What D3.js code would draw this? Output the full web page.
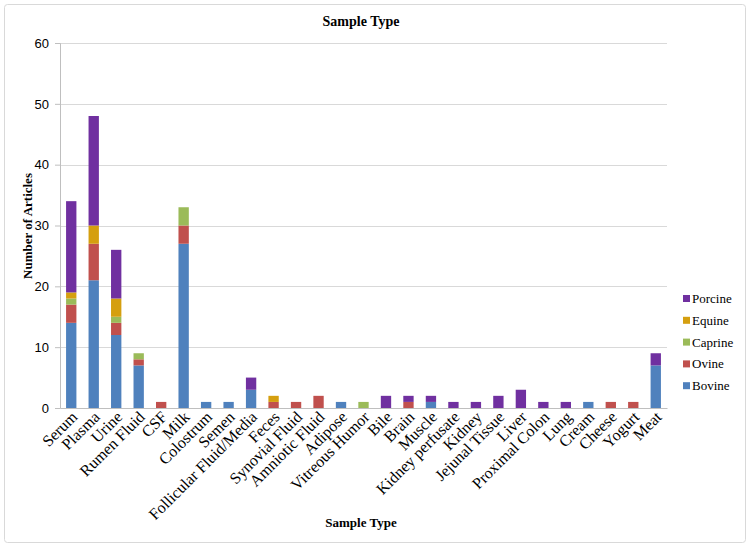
<!DOCTYPE html>
<html>
<head>
<script src="https://d3js.org/d3.v7.min.js"></script>
<style>
  body { margin: 0; background: #fff; }
</style>
</head>
<body>
<div id="chart"></div>
<script>
// categories along the x axis
var categories = ["Serum", "Plasma", "Urine", "Rumen Fluid", "CSF", "Milk", "Colostrum", "Semen",
  "Follicular Fluid/Media", "Feces", "Synovial Fluid", "Amniotic Fluid", "Adipose", "Vitreous Humor",
  "Bile", "Brain", "Muscle", "Kidney perfusate", "Kidney", "Jejunal Tissue", "Liver", "Proximal Colon",
  "Lung", "Cream", "Cheese", "Yogurt", "Meat"];

// series, stacked bottom to top
var seriesNames = ["Bovine", "Ovine", "Caprine", "Equine", "Porcine"];
var bovine  = [14, 21, 12, 7, 0, 27, 1, 1, 3, 0, 0, 0, 1, 0, 0, 0, 1, 0, 0, 0, 0, 0, 0, 1, 0, 0, 7];
var ovine   = [3, 6, 2, 1, 1, 3, 0, 0, 0, 1, 1, 2, 0, 0, 0, 1, 0, 0, 0, 0, 0, 0, 0, 0, 1, 1, 0];
var caprine = [1, 0, 1, 1, 0, 3, 0, 0, 0, 0, 0, 0, 0, 1, 0, 0, 0, 0, 0, 0, 0, 0, 0, 0, 0, 0, 0];
var equine  = [1, 3, 3, 0, 0, 0, 0, 0, 0, 1, 0, 0, 0, 0, 0, 0, 0, 0, 0, 0, 0, 0, 0, 0, 0, 0, 0];
var porcine = [15, 18, 8, 0, 0, 0, 0, 0, 2, 0, 0, 0, 0, 0, 2, 1, 1, 1, 1, 2, 3, 1, 1, 0, 0, 0, 2];
var yTicks = [0, 10, 20, 30, 40, 50, 60];

var colors = {Bovine: "#4f81bd", Ovine: "#c0504d", Caprine: "#9bbb59", Equine: "#d59f0f", Porcine: "#7030a0"};

var W = 750, H = 547;
var margin = {top: 43, left: 60, right: 83, bottom: 139};
var width = W - margin.left - margin.right,
    height = H - margin.top - margin.bottom;

var svg = d3.select("#chart").append("svg")
  .attr("width", W).attr("height", H);

// outer frame
svg.append("rect")
  .attr("x", 4.5).attr("y", 4.5)
  .attr("width", W - 9).attr("height", H - 9)
  .attr("rx", 3)
  .attr("fill", "#fff").attr("stroke", "#d9d9d9");

var g = svg.append("g").attr("transform", "translate(" + margin.left + "," + margin.top + ")");

var table = categories.map(function(c, i) {
  return {cat: c, Bovine: bovine[i], Ovine: ovine[i], Caprine: caprine[i], Equine: equine[i], Porcine: porcine[i]};
});
var stacked = d3.stack().keys(seriesNames)(table);

var x = d3.scaleBand().domain(categories).range([0, width]).paddingInner(0.54).paddingOuter(0.27);
var y = d3.scaleLinear().domain([0, 60]).range([height, 0]);

// gridlines
g.append("g").selectAll("line")
  .data(yTicks.slice(1))
  .enter().append("line")
  .attr("x1", 0).attr("x2", width)
  .attr("y1", function(d) { return Math.round(y(d)) + 0.5; })
  .attr("y2", function(d) { return Math.round(y(d)) + 0.5; })
  .attr("stroke", "#d9d9d9");

// y axis
var yAxis = g.append("g")
  .call(d3.axisLeft(y).tickValues(yTicks).tickSize(5).tickPadding(6));
yAxis.select(".domain").attr("stroke", "#bfbfbf");
yAxis.selectAll(".tick line").attr("stroke", "#bfbfbf");
yAxis.selectAll("text")
  .attr("font-family", "Liberation Sans, Arial, sans-serif")
  .attr("font-size", "13px").attr("fill", "#000");

// bars
g.append("g").selectAll("g")
  .data(stacked)
  .enter().append("g")
  .attr("fill", function(d) { return colors[d.key]; })
  .selectAll("rect")
  .data(function(d) { return d.filter(function(p) { return p[1] > p[0]; }); })
  .enter().append("rect")
  .attr("x", function(d) { return x(d.data.cat); })
  .attr("width", x.bandwidth())
  .attr("y", function(d) { return y(d[1]); })
  .attr("height", function(d) { return y(d[0]) - y(d[1]); });

// x axis
var xAxis = g.append("g")
  .attr("transform", "translate(0," + height + ")")
  .call(d3.axisBottom(x).tickSize(0).tickPadding(0));
xAxis.select(".domain").attr("stroke", "#bfbfbf");
xAxis.selectAll("text")
  .attr("font-family", "Liberation Serif, Times New Roman, serif")
  .attr("font-size", "16px").attr("fill", "#000")
  .attr("text-anchor", "end")
  .attr("dy", "0")
  .attr("transform", "translate(7,10) rotate(-45)");

// titles
svg.append("text")
  .attr("x", 361).attr("y", 26)
  .attr("text-anchor", "middle")
  .attr("font-family", "Liberation Serif, Times New Roman, serif")
  .attr("font-weight", "bold").attr("font-size", "14px")
  .text("Sample Type");

svg.append("text")
  .attr("x", 361).attr("y", 527)
  .attr("text-anchor", "middle")
  .attr("font-family", "Liberation Serif, Times New Roman, serif")
  .attr("font-weight", "bold").attr("font-size", "13px")
  .text("Sample Type");

svg.append("text")
  .attr("transform", "translate(32,226) rotate(-90)")
  .attr("text-anchor", "middle")
  .attr("font-family", "Liberation Serif, Times New Roman, serif")
  .attr("font-weight", "bold").attr("font-size", "13px")
  .text("Number of Articles");

// legend, Porcine on top
var legend = svg.append("g").attr("transform", "translate(683,299)");
var legendItems = legend.selectAll("g")
  .data(seriesNames.slice().reverse())
  .enter().append("g")
  .attr("transform", function(d, i) { return "translate(0," + (i * 21.8) + ")"; });
legendItems.append("rect")
  .attr("x", 0).attr("y", -4).attr("width", 7).attr("height", 7)
  .attr("fill", function(d) { return colors[d]; });
legendItems.append("text")
  .attr("x", 9).attr("y", 4)
  .attr("font-family", "Liberation Serif, Times New Roman, serif")
  .attr("font-size", "13px").attr("fill", "#000")
  .text(function(d) { return d; });
</script>
</body>
</html>
